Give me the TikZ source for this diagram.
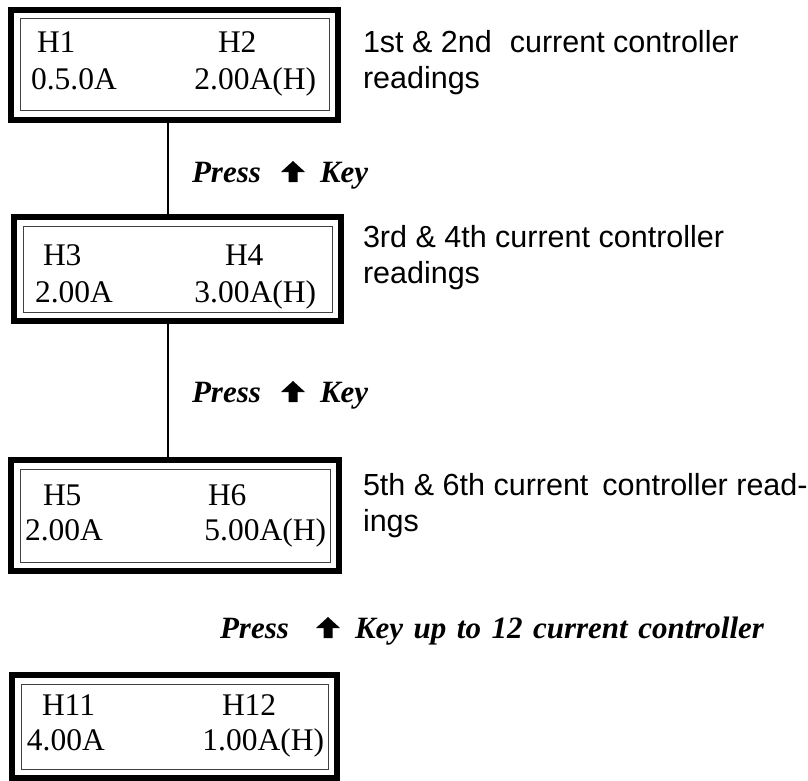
\documentclass[tikz,border=0pt]{standalone}
\usepackage{fontspec}
\setmainfont{Liberation Serif}
\newfontfamily\labelsans{Liberation Sans}
\newcommand{\wsp}{\hspace{10.5pt}}
\begin{document}
\begin{tikzpicture}[x=1pt,y=-1pt,
  screen/.style={draw=black,line width=6.5pt,rectangle,inner sep=0pt,outer sep=0pt},
  inner/.style={draw=black!75,line width=1pt},
  val/.style={inner sep=0pt,outer sep=0pt,font=\fontsize{31.5}{36}\selectfont},
  lab/.style={inner sep=0pt,outer sep=0pt,anchor=base west,font=\labelsans\fontsize{30.5}{36}\selectfont},
  press/.style={inner sep=0pt,outer sep=0pt,anchor=base west,font=\fontsize{31}{34}\selectfont\bfseries\itshape},
  conn/.style={draw=black,line width=2pt},
  uparrow/.style={fill=black}]
\useasboundingbox (0,0) rectangle (808,781);

% boxes
\node[screen,minimum width=327pt,minimum height=110pt] (b1) at (174.5,65) {};
\node[screen,minimum width=327pt,minimum height=104pt] (b2) at (177.5,269) {};
\node[screen,minimum width=328pt,minimum height=111pt] (b3) at (175,515.5) {};
\node[screen,minimum width=325pt,minimum height=103pt] (b4) at (174.5,726.5) {};
\foreach \b in {b1,b2,b3,b4}{
  \draw[inner] ([shift={(9,9)}]\b.north west) rectangle ([shift={(-9,-9)}]\b.south east);
}

% box texts
\node[val,anchor=base west] (h1) at (37,53) {H1};
\node[val,anchor=base west] (h2) at (218,53) {H2};
\node[val,anchor=base west] (v1) at (31,90) {0.5.0A};
\node[val,anchor=base east] (v2) at (316,90) {2.00A(H)};

\node[val,anchor=base west] (h3) at (43,265) {H3};
\node[val,anchor=base west] (h4) at (225,265) {H4};
\node[val,anchor=base west] (v3) at (35,302) {2.00A};
\node[val,anchor=base east] (v4) at (316,302) {3.00A(H)};

\node[val,anchor=base west] (h5) at (43,505) {H5};
\node[val,anchor=base west] (h6) at (208,505) {H6};
\node[val,anchor=base west] (v5) at (25,540) {2.00A};
\node[val,anchor=base east] (v6) at (326,540) {5.00A(H)};

\node[val,anchor=base west] (h11) at (42,715) {H11};
\node[val,anchor=base west] (h12) at (222,715) {H12};
\node[val,anchor=base west] (v11) at (27,750) {4.00A};
\node[val,anchor=base east] (v12) at (324,750) {1.00A(H)};

% connectors
\coordinate (lx) at (168,0);
\draw[conn] (b1.south -| lx) -- (b2.north -| lx);
\draw[conn] (b2.south -| lx) -- (b3.north -| lx);

% side labels
\node[lab] (l1a) at (363,53) {1st \& 2nd\hspace{18pt}current controller};
\node[lab] (l1b) at (363,89) {readings};
\node[lab] (l2a) at (363,247) {3rd \& 4th current controller};
\node[lab] (l2b) at (363,283) {readings};
\node[lab] (l3a) at (363,495) {5th \& 6th current\hspace{14pt}controller read-};
\node[lab] (l3b) at (363,531) {ings};

% press labels
\node[press] (p1) at (192,182) {Press};
\fill[uparrow,shift={(281,182)}] (0,-10) -- (12,-21) -- (24,-10) -- (16.5,-10) -- (16.5,0) -- (7.5,0) -- (7.5,-10) -- cycle;
\node[press] (k1) at (320,182) {Key};

\node[press] (p2) at (192,402) {Press};
\fill[uparrow,shift={(281,402)}] (0,-10) -- (12,-21) -- (24,-10) -- (16.5,-10) -- (16.5,0) -- (7.5,0) -- (7.5,-10) -- cycle;
\node[press] (k2) at (320,402) {Key};

\node[press] (p3) at (220,638) {Press};
\fill[uparrow,shift={(316,638)}] (0,-10) -- (12,-21) -- (24,-10) -- (16.5,-10) -- (16.5,0) -- (7.5,0) -- (7.5,-10) -- cycle;
\node[press] (k3) at (355,638) {Key\wsp up\wsp to\wsp 12\wsp current\wsp controller};
\end{tikzpicture}
\end{document}
